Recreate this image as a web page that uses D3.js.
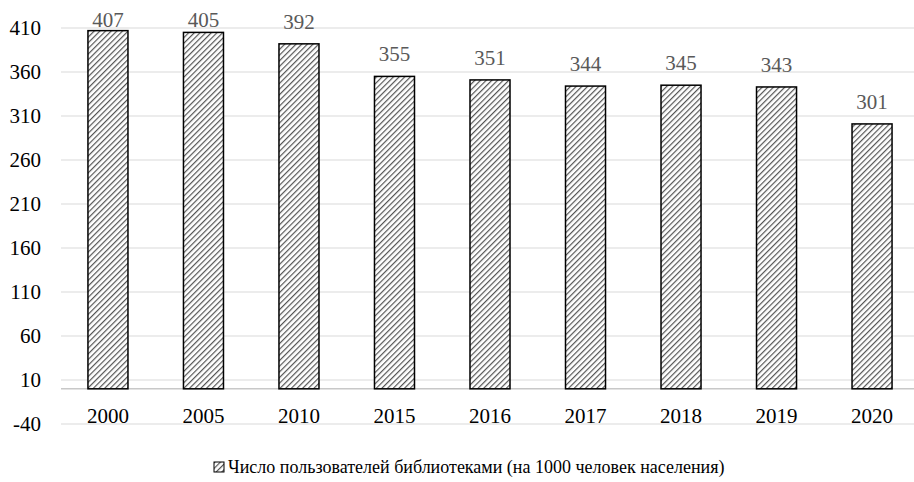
<!DOCTYPE html>
<html>
<head>
<meta charset="utf-8">
<script src="https://cdn.jsdelivr.net/npm/d3@7"></script>
<style>
  body { margin: 0; background: #fff; }
  text { font-family: 'Liberation Serif', 'DejaVu Serif', serif; }
</style>
</head>
<body>
<div id="chart"></div>
<script>
// data
const years  = ['2000', '2005', '2010', '2015', '2016', '2017', '2018', '2019', '2020'];
const values = [407, 405, 392, 355, 351, 344, 345, 343, 301];
const yTicks = [-40, 10, 60, 110, 160, 210, 260, 310, 360, 410];
const seriesName = 'Число пользователей библиотеками (на 1000 человек населения)';

const width = 914, height = 482;
const FONT = "'Liberation Serif', 'DejaVu Serif', serif";

const svg = d3.select('#chart').append('svg')
  .attr('width', width)
  .attr('height', height)
  .style('display', 'block')
  .attr('font-family', FONT);

// hatch pattern
const defs = svg.append('defs');
const pat = defs.append('pattern')
  .attr('id', 'hatch')
  .attr('patternUnits', 'userSpaceOnUse')
  .attr('width', 4)
  .attr('height', 4)
  .attr('patternTransform', 'rotate(45)');
pat.append('rect').attr('width', 4).attr('height', 4).attr('fill', '#fff');
pat.append('line')
  .attr('x1', 0).attr('y1', 0).attr('x2', 0).attr('y2', 4)
  .attr('stroke', '#555')
  .attr('stroke-width', 2.4);

// scales
const x = d3.scaleBand()
  .domain(years)
  .range([60.25, 919.75])
  .paddingInner(0.581)
  .paddingOuter(0.29);

const y = d3.scaleLinear()
  .domain([-40, 410])
  .range([424, 28]);

// gridlines
svg.append('g')
  .selectAll('line')
  .data(yTicks)
  .join('line')
    .attr('x1', 61)
    .attr('x2', width)
    .attr('y1', d => y(d))
    .attr('y2', d => y(d))
    .attr('stroke', '#d9d9d9')
    .attr('stroke-width', 1);

// y tick labels
svg.append('g')
  .selectAll('text')
  .data(yTicks)
  .join('text')
    .attr('x', 41)
    .attr('y', d => y(d))
    .attr('dy', '0.35em')
    .attr('text-anchor', 'end')
    .attr('font-size', 21)
    .attr('fill', '#000')
    .text(d => d);

// baseline (zero)
svg.append('line')
  .attr('x1', 61)
  .attr('x2', width)
  .attr('y1', y(0))
  .attr('y2', y(0))
  .attr('stroke', '#c8c8c8')
  .attr('stroke-width', 1.5);

// bars
svg.append('g')
  .selectAll('rect')
  .data(values)
  .join('rect')
    .attr('x', (d, i) => x(years[i]))
    .attr('y', d => y(d))
    .attr('width', x.bandwidth())
    .attr('height', d => y(0) - y(d))
    .attr('fill', 'url(#hatch)')
    .attr('stroke', '#000')
    .attr('stroke-width', 1.5);

// value labels (kept inside the plot top like Excel does)
svg.append('g')
  .selectAll('text')
  .data(values)
  .join('text')
    .attr('x', (d, i) => x(years[i]) + x.bandwidth() / 2)
    .attr('y', d => Math.max(y(d) - 15, 27))
    .attr('text-anchor', 'middle')
    .attr('font-size', 21)
    .attr('fill', '#595959')
    .text(d => d);

// x labels
svg.append('g')
  .selectAll('text')
  .data(years)
  .join('text')
    .attr('x', d => x(d) + x.bandwidth() / 2)
    .attr('y', 423)
    .attr('text-anchor', 'middle')
    .attr('font-size', 21)
    .attr('fill', '#000')
    .text(d => d);

// legend
const legend = svg.append('g').attr('transform', 'translate(214,462)');
legend.append('rect')
  .attr('x', 0).attr('y', 0)
  .attr('width', 10).attr('height', 10)
  .attr('fill', 'url(#hatch)')
  .attr('stroke', '#000')
  .attr('stroke-width', 1);
legend.append('text')
  .attr('x', 14)
  .attr('y', 11)
  .attr('font-size', 18)
  .attr('fill', '#000')
  .text(seriesName);
</script>
</body>
</html>
